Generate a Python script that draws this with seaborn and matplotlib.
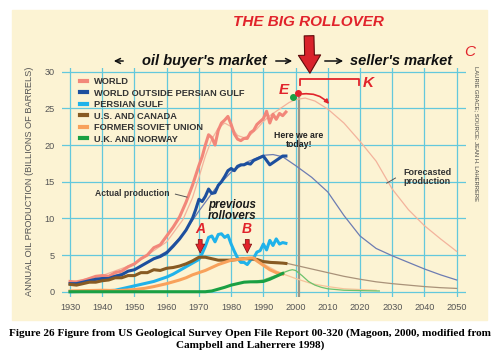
import matplotlib
matplotlib.use("Agg")
import matplotlib.pyplot as plt
from matplotlib.patches import Rectangle
import pandas as pd
import seaborn as sns

# ---- data: annual oil production, billions of barrels ----
series_order = ["WORLD", "WORLD OUTSIDE PERSIAN GULF", "PERSIAN GULF",
                "U.S. AND CANADA", "FORMER SOVIET UNION", "U.K. AND NORWAY"]

# actual production (thick lines)
world_years = [1930, 1932, 1934, 1936, 1938, 1940, 1942, 1944, 1946, 1948, 1950, 1952, 1954, 1956,
               1958, 1960, 1962, 1964, 1966, 1968, 1970, 1971, 1972, 1973, 1974, 1975, 1976, 1977,
               1978, 1979, 1980, 1981, 1982, 1983, 1984, 1985, 1986, 1987, 1988, 1989, 1990, 1991,
               1992, 1993, 1994, 1995, 1996, 1997]
world_vals = [1.4, 1.3, 1.5, 1.8, 2.1, 2.2, 2.1, 2.6, 2.8, 3.4, 3.8, 4.5, 5.0, 6.0,
              6.4, 7.6, 8.8, 10.2, 12.2, 14.5, 17.2, 18.4, 20.0, 21.4, 21.0, 20.0, 22.0, 23.0,
              23.4, 23.9, 22.8, 21.5, 20.8, 20.6, 20.9, 20.9, 21.7, 22.0, 22.8, 23.2, 23.6, 24.6,
              23.0, 24.2, 23.5, 24.3, 24.0, 24.5]

wopg_years = [1930, 1932, 1934, 1936, 1938, 1940, 1942, 1944, 1946, 1948, 1950, 1952, 1954, 1956,
              1958, 1960, 1962, 1964, 1966, 1968, 1969, 1970, 1971, 1972, 1973, 1974, 1975, 1976,
              1977, 1978, 1979, 1980, 1981, 1982, 1983, 1984, 1985, 1986, 1987, 1988, 1989, 1990,
              1991, 1992, 1993, 1994, 1995, 1996, 1997]
wopg_vals = [1.1, 1.1, 1.3, 1.5, 1.7, 1.8, 1.8, 2.1, 2.3, 2.8, 3.0, 3.5, 4.0, 4.5,
             4.8, 5.3, 6.2, 7.2, 8.4, 10.0, 11.2, 12.6, 12.3, 13.0, 14.0, 13.4, 13.5, 14.5,
             15.0, 15.7, 16.5, 16.8, 16.5, 17.1, 17.3, 17.3, 17.5, 17.4, 17.9, 18.1, 18.3, 18.5,
             17.9, 17.3, 17.6, 17.9, 18.2, 18.5, 18.5]

pg_years = [1930, 1935, 1940, 1944, 1946, 1948, 1950, 1952, 1954, 1956, 1958, 1960, 1962, 1964,
            1966, 1968, 1970, 1971, 1972, 1973, 1974, 1975, 1976, 1977, 1978, 1979, 1980, 1981,
            1982, 1983, 1984, 1985, 1986, 1987, 1988, 1989, 1990, 1991, 1992, 1993, 1994, 1995,
            1996, 1997]
pg_vals = [0.0, 0.05, 0.1, 0.2, 0.4, 0.6, 0.8, 1.0, 1.2, 1.4, 1.7, 2.0, 2.4, 2.9,
           3.4, 3.9, 4.4, 5.2, 6.2, 7.4, 7.6, 6.8, 7.8, 7.9, 7.4, 7.7, 6.5, 5.5,
           4.6, 4.0, 4.0, 3.7, 4.3, 4.6, 5.4, 5.6, 6.5, 5.7, 7.0, 6.3, 7.2, 6.5,
           6.7, 6.6]

usc_years = [1930, 1932, 1934, 1936, 1938, 1940, 1942, 1944, 1946, 1948, 1950, 1952, 1954, 1956,
             1958, 1960, 1962, 1964, 1966, 1968, 1970, 1972, 1974, 1976, 1978, 1980, 1982, 1984,
             1986, 1988, 1990, 1992, 1994, 1996, 1997]
usc_vals = [1.0, 0.9, 1.1, 1.3, 1.3, 1.5, 1.6, 1.9, 1.9, 2.2, 2.2, 2.6, 2.6, 3.0,
            2.9, 3.2, 3.3, 3.5, 3.8, 4.2, 4.7, 4.7, 4.5, 4.3, 4.3, 4.3, 4.4, 4.5,
            4.5, 4.4, 4.1, 4.0, 3.95, 3.9, 3.85]

fsu_years = [1930, 1935, 1940, 1945, 1950, 1953, 1956, 1958, 1960, 1962, 1964, 1966, 1968, 1970,
             1972, 1974, 1976, 1978, 1980, 1982, 1984, 1986, 1987, 1988, 1989, 1990, 1991, 1992,
             1993, 1994, 1995, 1996]
fsu_vals = [0.1, 0.15, 0.2, 0.15, 0.3, 0.45, 0.7, 0.9, 1.1, 1.35, 1.6, 1.9, 2.3, 2.6,
            2.9, 3.3, 3.7, 4.0, 4.3, 4.4, 4.5, 4.6, 4.6, 4.2, 3.9, 3.6, 3.3, 3.0,
            2.8, 2.6, 2.5, 2.4]

ukn_years = [1930, 1950, 1970, 1972, 1974, 1976, 1978, 1980, 1982, 1984, 1986, 1988, 1990, 1992,
             1994, 1996]
ukn_vals = [0.0, 0.0, 0.0, 0.0, 0.1, 0.35, 0.6, 0.9, 1.1, 1.3, 1.35, 1.35, 1.4, 1.7,
            2.1, 2.5]

# smoothed history + forecast (thin lines)
world_fc_years = [1930, 1940, 1950, 1960, 1965, 1968, 1970, 1972, 1974, 1976, 1978, 1980, 1982,
                  1984, 1986, 1988, 1990, 1992, 1994, 1996, 1998, 2000, 2003, 2006, 2010, 2015,
                  2020, 2025, 2030, 2035, 2040, 2045, 2050]
world_fc_vals = [1.3, 2.2, 3.8, 6.8, 9.8, 12.8, 15.6, 18.5, 20.8, 22.3, 23.0, 22.5, 21.3,
                 21.0, 21.4, 22.2, 23.2, 24.0, 24.6, 25.2, 25.8, 26.2, 26.4, 26.0, 24.9, 23.0,
                 20.5, 17.8, 14.0, 11.2, 9.0, 7.2, 5.5]

wopg_fc_years = [1930, 1940, 1950, 1960, 1965, 1970, 1975, 1980, 1985, 1990, 1993, 1996, 2000,
                 2005, 2010, 2015, 2020, 2025, 2030, 2035, 2040, 2045, 2050]
wopg_fc_vals = [1.0, 1.7, 3.0, 5.5, 7.8, 11.0, 14.0, 16.3, 17.7, 18.6, 18.7, 18.4, 17.2,
                15.6, 13.6, 10.4, 7.6, 5.9, 4.9, 4.0, 3.1, 2.3, 1.6]

usc_fc_years = [1985, 1990, 1997, 2000, 2005, 2010, 2015, 2020, 2025, 2030, 2035, 2040, 2045, 2050]
usc_fc_vals = [4.5, 4.2, 3.9, 3.6, 3.1, 2.6, 2.1, 1.7, 1.35, 1.1, 0.9, 0.7, 0.55, 0.45]

fsu_fc_years = [1985, 1990, 1995, 2000, 2005, 2010, 2015, 2020, 2025]
fsu_fc_vals = [4.6, 3.8, 2.6, 1.8, 1.1, 0.7, 0.4, 0.3, 0.2]

ukn_fc_years = [1985, 1990, 1995, 1998, 1999, 2000, 2002, 2004, 2006, 2008, 2010, 2015, 2020, 2026]
ukn_fc_vals = [1.3, 1.6, 2.4, 2.9, 3.0, 2.9, 2.2, 1.4, 0.9, 0.6, 0.4, 0.2, 0.15, 0.1]

thick_colors = {"WORLD": "#f2877a", "WORLD OUTSIDE PERSIAN GULF": "#1d4f9e",
                "PERSIAN GULF": "#1fb2ea", "U.S. AND CANADA": "#875a22",
                "FORMER SOVIET UNION": "#f8a15b", "U.K. AND NORWAY": "#1aa043"}
thin_colors = {"WORLD": "#f3b39c", "WORLD OUTSIDE PERSIAN GULF": "#6d7cb2",
               "U.S. AND CANADA": "#a99279", "FORMER SOVIET UNION": "#f6c39a",
               "U.K. AND NORWAY": "#6cc26c"}


def long_df(parts):
    rows = []
    for name, yrs, vals in parts:
        for y, v in zip(yrs, vals):
            rows.append({"year": y, "value": v, "series": name})
    return pd.DataFrame(rows)


actual = long_df([("WORLD", world_years, world_vals),
                  ("WORLD OUTSIDE PERSIAN GULF", wopg_years, wopg_vals),
                  ("PERSIAN GULF", pg_years, pg_vals),
                  ("U.S. AND CANADA", usc_years, usc_vals),
                  ("FORMER SOVIET UNION", fsu_years, fsu_vals),
                  ("U.K. AND NORWAY", ukn_years, ukn_vals)])
forecast = long_df([("WORLD", world_fc_years, world_fc_vals),
                    ("WORLD OUTSIDE PERSIAN GULF", wopg_fc_years, wopg_fc_vals),
                    ("U.S. AND CANADA", usc_fc_years, usc_fc_vals),
                    ("FORMER SOVIET UNION", fsu_fc_years, fsu_fc_vals),
                    ("U.K. AND NORWAY", ukn_fc_years, ukn_fc_vals)])

plt.rcParams["font.family"] = ["Liberation Sans", "DejaVu Sans"]
RED = "#e1232b"

fig = plt.figure(figsize=(5, 3.58), dpi=100, facecolor="white")
fig.patches.append(Rectangle((12 / 500, 1 - 320 / 358), 475 / 500, 310 / 358,
                             transform=fig.transFigure, color="#fcf3d3", zorder=-10))
ax = fig.add_axes([62 / 500, 61 / 358, 404 / 500, 229 / 358])
ax.set_facecolor("none")

sns.lineplot(data=forecast, x="year", y="value", hue="series", palette=thin_colors,
             linewidth=0.9, legend=False, errorbar=None, ax=ax)
sns.lineplot(data=actual, x="year", y="value", hue="series", hue_order=series_order,
             palette=thick_colors, linewidth=2.2, errorbar=None, ax=ax)

ax.set_xlim(1927.5, 2052.9)
ax.set_ylim(-0.72, 30.5)
ax.set_xticks(range(1930, 2051, 10))
ax.set_yticks(range(0, 31, 5))
ax.grid(color="#63c8dc", linewidth=0.9)
ax.set_axisbelow(True)
for s in ax.spines.values():
    s.set_visible(False)
ax.tick_params(length=0, labelsize=6.6, colors="#555555")
ax.tick_params(axis="x", pad=4)
ax.tick_params(axis="y", pad=5)
ax.set_xlabel("")
ax.set_ylabel("")

handles, labels = ax.get_legend_handles_labels()
leg = ax.legend(handles, labels, loc="upper left", bbox_to_anchor=(18 / 404, 220 / 229),
                frameon=False, fontsize=6.7, handlelength=0.8, handletextpad=0.7,
                labelspacing=0.27, borderaxespad=0, borderpad=0)
for t in leg.get_texts():
    t.set_fontweight("bold")
    t.set_color("#333333")
for h in leg.get_lines():
    h.set_linewidth(3)

# "today" line and markers
ax.plot([2001, 2001], [-0.72, 26.4], color="#a09887", lw=1.6, zorder=1)
ax.plot([2001.4, 2001.4, 2019.8, 2019.8], [28.2, 29.0, 29.0, 28.2], color=RED, lw=1.3)
ax.plot([1999.1], [26.6], "o", color="#1aa043", ms=4)
ax.plot([2000.6], [27.1], "o", color=RED, ms=4)
ax.annotate("", xy=(2011, 25.3), xytext=(2001.2, 26.9),
            arrowprops=dict(arrowstyle="-|>", color=RED, lw=1.2, mutation_scale=6,
                            connectionstyle="arc3,rad=-0.3"))
ax.text(1996.2, 27.5, "E", color=RED, fontsize=11, weight="bold", style="italic",
        ha="center", va="center")
ax.text(2022.5, 28.4, "K", color=RED, fontsize=11, weight="bold", style="italic",
        ha="center", va="center")
ax.text(2001.1, 20.7, "Here we are\ntoday!", fontsize=6.3, weight="bold", color="#222222",
        ha="center", va="center", linespacing=1.05)

ax.text(1937.8, 13.4, "Actual production", fontsize=6.2, weight="bold", color="#333333",
        ha="left", va="center")
ax.plot([1962.7, 1966.3], [13.3, 12.9], color="#555555", lw=0.7)
ax.text(2033.4, 15.7, "Forecasted\nproduction", fontsize=6.5, weight="bold", color="#333333",
        ha="left", va="center", linespacing=1.0)
ax.plot([2031.0, 2028.3], [15.5, 14.8], color="#555555", lw=0.7)

ax.text(1980.2, 11.1, "previous\nrollovers", fontsize=8.3, weight="bold", style="italic",
        color="#1a1a1a", ha="center", va="center", linespacing=0.95)
for yr, lab in [(1970.4, "A"), (1985.0, "B")]:
    ax.text(yr, 8.5, lab, color=RED, fontsize=10, weight="bold", style="italic",
            ha="center", va="center")
    ax.annotate("", xy=(yr, 4.9), xytext=(yr, 7.5),
                arrowprops=dict(arrowstyle="simple,head_length=0.8,head_width=0.8,tail_width=0.35",
                                fc=RED, ec="#7a0c0c", lw=0.5, mutation_scale=8))

# titles and market arrows
fig.text(308 / 500, 1 - 22 / 358, "THE BIG ROLLOVER", color=RED, fontsize=11,
         weight="bold", style="italic", ha="center", va="center")
ax.annotate("", xy=(310 / 500, 1 - 76 / 358), xytext=(309 / 500, 1 - 33 / 358),
            xycoords="figure fraction", textcoords="figure fraction", annotation_clip=False,
            arrowprops=dict(arrowstyle="simple,head_length=1.3,head_width=1.6,tail_width=0.7",
                            fc="#d9222b", ec="#5e0a0a", lw=0.8, mutation_scale=10))
fig.text(204 / 500, 1 - 61 / 358, "oil buyer's market", fontsize=10.5, weight="bold",
         style="italic", ha="center", va="center", color="#111111")
fig.text(401 / 500, 1 - 61 / 358, "seller's market", fontsize=10.5, weight="bold",
         style="italic", ha="center", va="center", color="#111111")
for x0, x1 in [(126, 111), (273, 295), (322, 346)]:
    ax.annotate("", xy=(x1 / 500, 1 - 61 / 358), xytext=(x0 / 500, 1 - 61 / 358),
                xycoords="figure fraction", textcoords="figure fraction",
                annotation_clip=False,
                arrowprops=dict(arrowstyle="->", color="#111111", lw=1.1, mutation_scale=9))
fig.text(470 / 500, 1 - 52 / 358, "C", color=RED, fontsize=11, style="italic",
         ha="center", va="center")
fig.text(476 / 500, 1 - 133 / 358, "LAURIE GRACE; SOURCE: JEAN H. LAHERRERE", fontsize=4.2,
         rotation=-90, color="#444444", ha="center", va="center")
fig.text(30 / 500, 1 - 181 / 358, "ANNUAL OIL PRODUCTION (BILLIONS OF BARRELS)", fontsize=6.7,
         rotation=90, color="#555555", ha="center", va="center")

fig.text(0.5, 1 - 333 / 358,
         "Figure 26 Figure from US Geological Survey Open File Report 00-320 (Magoon, 2000, modified from",
         family="Liberation Serif", weight="bold", fontsize=8.1, ha="center", va="center")
fig.text(0.5, 1 - 345 / 358, "Campbell and Laherrere 1998)",
         family="Liberation Serif", weight="bold", fontsize=8.1, ha="center", va="center")

fig.savefig("out.png", dpi=100, facecolor="white")
